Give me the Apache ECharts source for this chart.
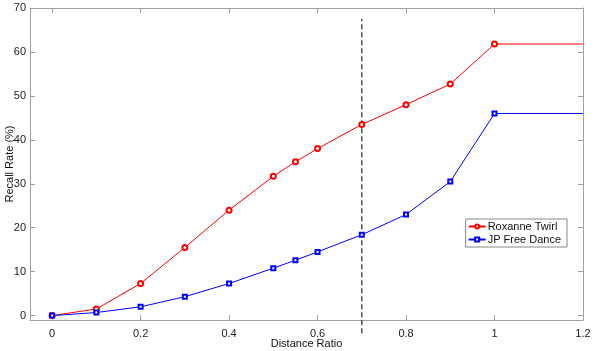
<!DOCTYPE html>
<html>
<head>
<meta charset="utf-8">
<script src="https://cdn.jsdelivr.net/npm/echarts@6/dist/echarts.min.js"></script>
<style>
html,body{margin:0;padding:0;background:#fff;}
#container{width:600px;height:351px;}
</style>
</head>
<body>
<div id="container"></div>
<script>
// data
var ratios = [0, 0.1, 0.2, 0.3, 0.4, 0.5, 0.55, 0.6, 0.7, 0.8, 0.9, 1, 1.2];
var roxanne = [0, 1.5, 7.3, 15.5, 24, 31.7, 35, 38, 43.5, 48, 52.7, 61.8, 61.8];
var jpDance = [0, 0.7, 2, 4.3, 7.3, 10.8, 12.6, 14.5, 18.4, 23, 30.5, 46, 46];
var xTicks = [0, 0.2, 0.4, 0.6, 0.8, 1, 1.2];
var yTicks = [0, 10, 20, 30, 40, 50, 60, 70];
var cutoff = 0.7;

function pairs(ys) {
    return ratios.map(function (x, i) {
        var p = {value: [x, ys[i]]};
        if (x > 1) p.symbol = 'none';
        return p;
    });
}

var dom = document.getElementById("container");
var myChart = echarts.init(dom);
var font = 'Liberation Sans';
var gridLine = '#a0a0a0';

var baseX = {
    type: 'value', min: -0.05, max: 1.2,
    axisLine: {show: true, onZero: false, lineStyle: {color: gridLine}},
    splitLine: {show: false}
};
var baseY = {
    type: 'value', min: -1, max: 70,
    axisLine: {show: true, onZero: false, lineStyle: {color: gridLine}},
    splitLine: {show: false}
};

var option = {
    backgroundColor: '#fff',
    animation: false,
    grid: {left: 30, right: 17, top: 8, bottom: 31, outerBoundsMode: 'none', containLabel: false},
    legend: {
        right: 33, top: 219,
        orient: 'vertical',
        itemGap: 2,
        itemWidth: 17, itemHeight: 5,
        padding: [2, 6, 2, 2],
        borderColor: '#888', borderWidth: 1,
        backgroundColor: '#fff',
        textStyle: {fontFamily: font, fontSize: 11, color: '#111', padding: [0, 0, 0, -3]},
        data: ['Roxanne Twirl', 'JP Free Dance']
    },
    xAxis: [
        Object.assign({}, baseX, {
            position: 'bottom',
            axisTick: {inside: true, length: 5, lineStyle: {color: gridLine}, customValues: xTicks},
            axisLabel: {fontFamily: font, fontSize: 11, color: '#222', margin: 8,
                customValues: xTicks,
                formatter: function (v) { return String(Math.round(v * 10) / 10); }},
            name: 'Distance Ratio', nameLocation: 'middle', nameGap: 18, nameMoveOverlap: false,
            nameTextStyle: {fontFamily: font, fontSize: 11, color: '#111'}
        }),
        Object.assign({}, baseX, {
            position: 'top',
            axisTick: {inside: true, length: 5, lineStyle: {color: gridLine}, customValues: xTicks},
            axisLabel: {show: false}
        })
    ],
    yAxis: [
        Object.assign({}, baseY, {
            position: 'left',
            axisTick: {inside: true, length: 5, lineStyle: {color: gridLine}, customValues: yTicks},
            axisLabel: {fontFamily: font, fontSize: 11, color: '#222', margin: 4, customValues: yTicks},
            name: 'Recall Rate (%)', nameLocation: 'middle', nameGap: 15, nameMoveOverlap: false,
            nameTextStyle: {fontFamily: font, fontSize: 11, color: '#111'}
        }),
        Object.assign({}, baseY, {
            position: 'right',
            axisTick: {inside: true, length: 5, lineStyle: {color: gridLine}, customValues: yTicks},
            axisLabel: {show: false}
        })
    ],
    series: [
        {
            name: 'Roxanne Twirl', type: 'line',
            data: pairs(roxanne),
            symbol: 'emptyCircle', symbolSize: 5,
            color: '#ff0000',
            lineStyle: {width: 1, color: '#ff0000'},
            itemStyle: {color: '#ff0000', borderWidth: 0.8}
        },
        {
            name: 'JP Free Dance', type: 'line',
            data: pairs(jpDance),
            symbol: 'emptyRect', symbolSize: 4,
            color: '#0000ff',
            lineStyle: {width: 1, color: '#0000ff'},
            itemStyle: {color: '#0000ff', borderWidth: 0.8}
        },
        {
            name: 'cutoff', type: 'line',
            data: [[cutoff, -4], [cutoff, 67.5]],
            symbol: 'none', clip: false, silent: true,
            lineStyle: {width: 1.2, color: '#222', type: [5, 3]}
        }
    ]
};
myChart.setOption(option, true);
</script>
</body>
</html>
